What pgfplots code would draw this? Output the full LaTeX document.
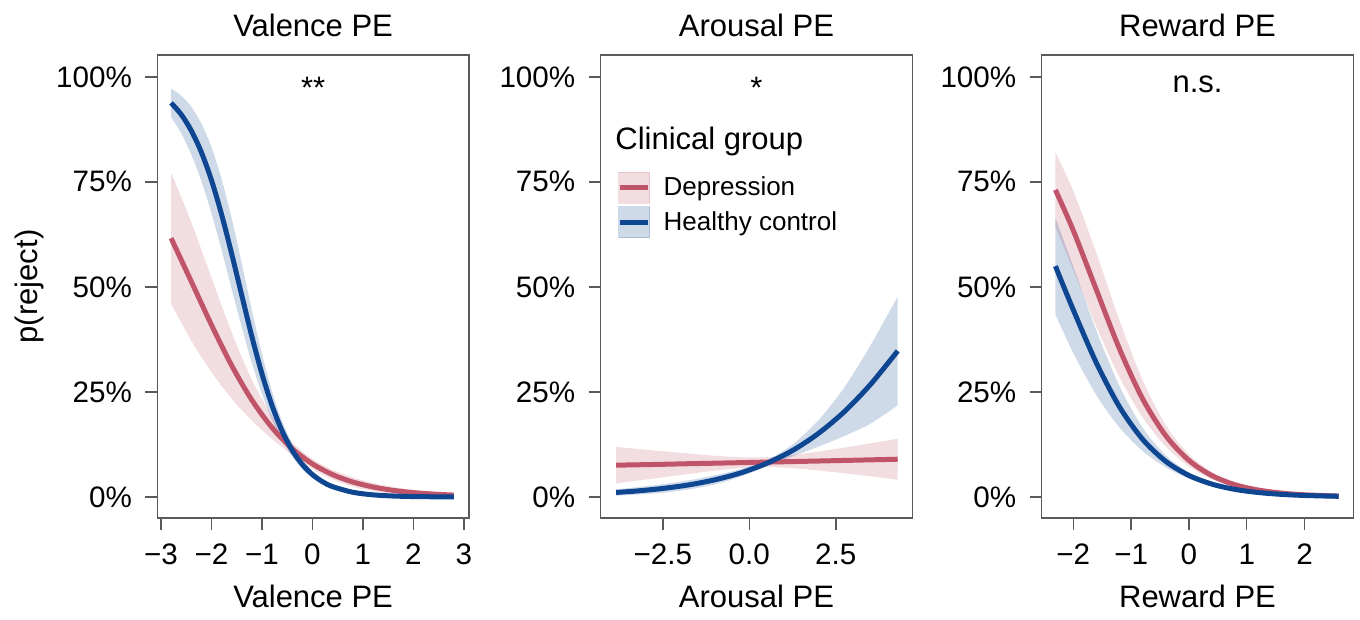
\documentclass[border=0pt]{standalone}
\usepackage{fontspec}
\setmainfont{Liberation Sans}
\usepackage{pgfplots}
\usepackage{pgfplotstable}
\pgfplotsset{compat=1.18}
\usepgfplotslibrary{fillbetween}
\definecolor{redc}{RGB}{192,84,104}
\definecolor{bluec}{RGB}{14,70,145}
\definecolor{framec}{RGB}{90,90,90}

% Valence PE
\pgfplotstableread{
x p lo hi
-2.8 0.616 0.460 0.772
-2.4 0.513 0.372 0.654
-2.0 0.4095 0.297 0.522
-1.6 0.313 0.234 0.392
-1.2 0.2308 0.182 0.279
-0.8 0.165 0.138 0.192
-0.4 0.115 0.100 0.130
0.0 0.0787 0.0669 0.0905
0.4 0.0532 0.0416 0.0648
0.8 0.0356 0.0246 0.0466
1.2 0.0238 0.0142 0.0334
1.6 0.0157 0.0077 0.0237
2.0 0.0104 0.0041 0.0167
2.4 0.0069 0.0020 0.0118
2.8 0.0045 0.0008 0.0082
}\valD
\pgfplotstableread{
x p lo hi
-2.8 0.938 0.904 0.972
-2.6 0.9105 0.8658 0.9552
-2.4 0.872 0.815 0.929
-2.2 0.8205 0.752 0.889
-2.0 0.754 0.675 0.833
-1.8 0.6726 0.5883 0.7569
-1.6 0.579 0.495 0.663
-1.4 0.480 0.4042 0.5558
-1.2 0.382 0.319 0.445
-1.0 0.2932 0.2453 0.3411
-0.8 0.2175 0.1835 0.2515
-0.6 0.1571 0.1341 0.1801
-0.4 0.111 0.0956 0.1264
-0.2 0.0773 0.0666 0.0880
0.0 0.0532 0.0453 0.0611
0.2 0.0363 0.0302 0.0424
0.4 0.0246 0.0198 0.0294
0.8 0.0112 0.0082 0.0142
1.2 0.0051 0.0034 0.0068
1.6 0.0023 0.0013 0.0033
2.0 0.0010 0.0005 0.0015
2.4 0.0005 0.0002 0.0007
2.8 0.0002 0.0001 0.0003
}\valH
% Arousal PE
\pgfplotstableread{
x p lo hi
-3.85 0.0757 0.0323 0.1191
-3.25 0.0766 0.0387 0.1145
-2.5 0.0778 0.0468 0.1088
-1.75 0.0792 0.0549 0.1035
-1.0 0.0804 0.0626 0.0982
-0.25 0.0817 0.0689 0.0945
0.5 0.0830 0.0714 0.0946
1.25 0.0843 0.0686 0.1000
2.0 0.0856 0.0630 0.1082
2.75 0.0870 0.0564 0.1176
3.5 0.0884 0.0491 0.1277
4.29 0.0899 0.0410 0.1388
}\arD
\pgfplotstableread{
x p lo hi
-3.85 0.0108 0.0031 0.0185
-3.25 0.0143 0.0055 0.0231
-2.5 0.0203 0.0102 0.0304
-1.75 0.0288 0.0179 0.0397
-1.0 0.0408 0.0300 0.0516
-0.25 0.0573 0.0482 0.0664
0.5 0.0801 0.0727 0.0875
1.25 0.1107 0.0965 0.1249
2.0 0.1514 0.1199 0.1829
2.75 0.2033 0.1453 0.2613
3.5 0.2676 0.1745 0.3607
4.29 0.3477 0.2184 0.4770
}\arH
% Reward PE
\pgfplotstableread{
x p lo hi
-2.31 0.731 0.642 0.820
-2.0 0.634 0.5396 0.7284
-1.6 0.4925 0.405 0.580
-1.2 0.352 0.2845 0.4195
-0.8 0.2333 0.1891 0.2775
-0.4 0.1456 0.1200 0.1712
0.0 0.087 0.0727 0.1013
0.4 0.0507 0.0423 0.0591
0.8 0.029 0.0236 0.0344
1.2 0.0165 0.0129 0.0201
1.6 0.0093 0.0068 0.0118
2.0 0.0052 0.0036 0.0068
2.59 0.0022 0.0013 0.0031
}\rwD
\pgfplotstableread{
x p lo hi
-2.31 0.5495 0.4342 0.6648
-2.0 0.4452 0.3425 0.5479
-1.6 0.3187 0.2421 0.3953
-1.2 0.2142 0.1651 0.2633
-0.8 0.137 0.1093 0.1647
-0.4 0.0847 0.0704 0.0990
0.0 0.0512 0.0439 0.0585
0.4 0.0305 0.0263 0.0347
0.8 0.018 0.0151 0.0209
1.2 0.0106 0.0084 0.0128
1.6 0.0062 0.0046 0.0078
2.0 0.0036 0.0024 0.0048
2.59 0.0016 0.0009 0.0023
}\rwH

\newcommand{\bigf}{\fontsize{15.5}{18}\selectfont}
\newcommand{\tickf}{\fontsize{14.8}{18}\selectfont}
\pgfplotsset{
  panel/.style={
    scale only axis, width=155.8pt, height=231.5pt, anchor=south west,
    ymin=-0.05, ymax=1.052,
    ytick={0,0.25,0.5,0.75,1},
    yticklabels={0\%,25\%,50\%,75\%,100\%},
    tick align=outside, xtick pos=left, ytick pos=left,
    major tick length=6pt,
    axis line style={framec, line width=0.7pt},
    tick style={framec, line width=0.7pt},
    tick label style={font=\tickf},
    yticklabel style={xshift=-3.2pt},
    xticklabel style={yshift=-3.5pt},
    /pgf/number format/assume math mode=true,
    title style={at={(axis description cs:0.5,1)}, anchor=center, yshift=9pt, font=\bigf},
    xlabel style={at={(axis description cs:0.5,0)}, anchor=center, yshift=-39.4pt, font=\bigf},
    clip=true,
  },
  band/.style={draw=none, smooth, forget plot},
  curve/.style={line width=2.5pt, smooth, forget plot},
}

\newcommand{\groupplot}[2]{%
  \addplot[band, name path=dA] table[x=x,y=hi]{#1};
  \addplot[band, name path=dB] table[x=x,y=lo]{#1};
  \addplot[fill=redc, fill opacity=0.2, draw=none, forget plot] fill between[of=dA and dB];
  \addplot[band, name path=hA] table[x=x,y=hi]{#2};
  \addplot[band, name path=hB] table[x=x,y=lo]{#2};
  \addplot[fill=bluec, fill opacity=0.2, draw=none, forget plot] fill between[of=hA and hB];
  \addplot[curve, redc] table[x=x,y=p]{#1};
  \addplot[curve, bluec] table[x=x,y=p]{#2};
}

\begin{document}
\begin{tikzpicture}

\begin{axis}[panel, at={(78.65pt,51pt)},
  xmin=-3.073, xmax=3.099,
  xtick={-3,-2,-1,0,1,2,3},
  xticklabels={−3,−2,−1,0,1,2,3},
  title={Valence PE}, xlabel={Valence PE},
  ylabel={p(reject)},
  ylabel style={at={(axis description cs:-0.41,0.5)}, anchor=center, font=\bigf}]
\groupplot{\valD}{\valH}
\node[font=\bigf, anchor=base] at (axis description cs:0.5,0.905) {**};
\end{axis}

\begin{axis}[panel, at={(300.35pt,51pt)},
  xmin=-4.295, xmax=4.711,
  xtick={-2.5,0,2.5},
  xticklabels={−2.5,0.0,2.5},
  title={Arousal PE}, xlabel={Arousal PE},
  legend style={at={(axis description cs:0.0533,0.748)}, anchor=north west,
    draw=none, fill=none, inner sep=0pt, outer sep=0pt,
    row sep=1.5pt, column sep=6.7pt,
    font=\fontsize{13}{15}\selectfont, nodes={inner sep=0pt}},
  legend cell align=left]
\groupplot{\arD}{\arH}
\addlegendimage{legend image code/.code={
  \fill[redc, opacity=0.2] (0pt,-7.75pt) rectangle (15.5pt,7.75pt);
  \draw[redc, line width=2.5pt] (0.6pt,0pt) -- (14.6pt,0pt);}}
\addlegendentry{Depression}
\addlegendimage{legend image code/.code={
  \fill[bluec, opacity=0.2] (0pt,-7.75pt) rectangle (15.5pt,7.75pt);
  \draw[bluec, line width=2.5pt] (0.6pt,0pt) -- (14.6pt,0pt);}}
\addlegendentry{Healthy control}
\node[font=\bigf, anchor=base] at (axis description cs:0.5,0.905) {*};
\node[font=\bigf, anchor=base west, inner sep=0pt] at (axis description cs:0.0459,0.7963) {Clinical group};
\end{axis}

\begin{axis}[panel, at={(520.85pt,51pt)},
  xmin=-2.547, xmax=2.843,
  xtick={-2,-1,0,1,2},
  xticklabels={−2,−1,0,1,2},
  title={Reward PE}, xlabel={Reward PE}]
\groupplot{\rwD}{\rwH}
\node[font=\bigf, anchor=base] at (axis description cs:0.5,0.92) {n.s.};
\end{axis}

\pgfresetboundingbox
\path (0,0) rectangle (680pt,310pt);
\end{tikzpicture}
\end{document}
